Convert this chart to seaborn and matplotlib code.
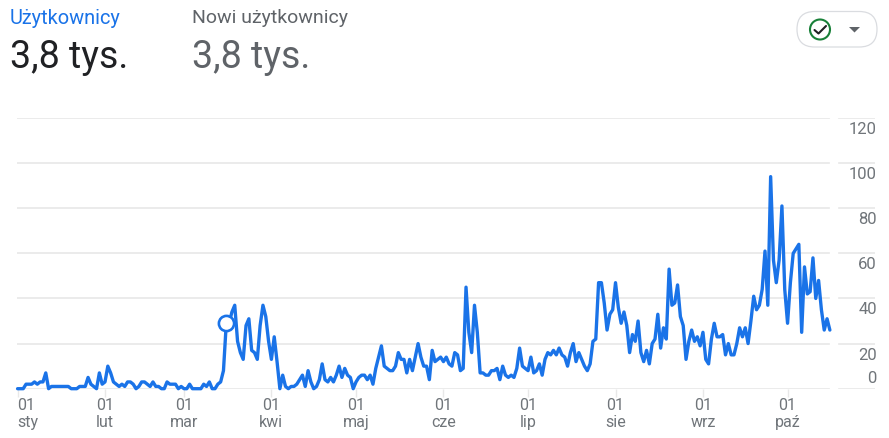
import seaborn as sns
import pandas as pd
import matplotlib.pyplot as plt
from matplotlib.patches import FancyBboxPatch, Circle, Polygon

# daily users, from 1 Jan
users_jan = [0, 0, 0, 2, 2, 2, 3, 2, 3, 3, 7, 0, 1, 1, 1, 1, 1, 1, 1, 0, 0, 0, 1, 1, 1, 5, 2, 1, 0, 7, 2]
users_feb = [3, 10, 7, 3, 2, 1, 2, 1, 3, 3, 2, 0, 1, 3, 3, 2, 1, 3, 1, 1, 0, 0, 3, 2, 2, 2, 0, 1]
users_mar = [0, 0, 2, 0, 0, 0, 0, 2, 1, 3, 0, 0, 2, 3, 8, 29, 29, 34, 37, 21, 16, 13, 28, 31, 17, 16, 13, 28, 37, 32, 21]
users_apr = [13, 23, 12, 0, 6, 1, 0, 1, 1, 2, 4, 6, 1, 8, 3, 0, 1, 4, 11, 4, 3, 5, 3, 6, 10, 5, 9, 6, 5, 0]
users_may = [3, 5, 6, 6, 4, 6, 2, 9, 14, 19, 10, 9, 8, 8, 10, 16, 13, 13, 7, 13, 8, 14, 20, 14, 10, 10, 4, 17, 12, 13, 14]
users_jun = [12, 14, 11, 10, 16, 15, 8, 9, 45, 25, 16, 37, 25, 7, 7, 6, 6, 8, 8, 9, 4, 10, 6, 5, 6, 5, 9, 18, 10, 9]
users_jul = [8, 14, 7, 8, 11, 6, 13, 16, 15, 17, 15, 18, 15, 14, 10, 16, 20, 12, 16, 13, 10, 8, 11, 21, 22, 47, 47, 38, 26, 33, 35]
users_aug = [47, 36, 29, 34, 28, 16, 24, 21, 30, 16, 12, 17, 11, 20, 22, 33, 18, 27, 22, 53, 37, 38, 46, 32, 28, 13, 21, 26, 21, 23, 19]
users_sep = [25, 13, 11, 22, 29, 23, 23, 24, 15, 20, 15, 15, 20, 27, 23, 27, 20, 30, 41, 35, 37, 44, 61, 37, 94, 57, 47, 57, 81, 44]
users_oct = [29, 47, 60, 62, 64, 25, 54, 42, 43, 58, 40, 48, 35, 26, 31, 26]

month_starts = ['2023-01-01', '2023-02-01', '2023-03-01', '2023-04-01', '2023-05-01',
                '2023-06-01', '2023-07-01', '2023-08-01', '2023-09-01', '2023-10-01']
month_labels = ['sty', 'lut', 'mar', 'kwi', 'maj', 'cze', 'lip', 'sie', 'wrz', 'paź']
y_ticks = [0, 20, 40, 60, 80, 100, 120]
marker_day = '2023-03-16'
marker_value = 29

W, H = 889, 438
GRID = '#e8e8e8'
BLUE = '#1a73e8'
GREY = '#70757a'


def day(offset):
    return pd.Timestamp('2023-01-01') + pd.Timedelta(days=offset)


users = users_jan + users_feb + users_mar + users_apr + users_may + users_jun + users_jul + users_aug + users_sep + users_oct
data = pd.DataFrame({'date': pd.date_range('2023-01-01', periods=len(users)), 'users': users})

sns.set_theme(style='white')
plt.rcParams['font.family'] = ['Roboto', 'DejaVu Sans']

fig = plt.figure(figsize=(W / 100, H / 100), dpi=100)
ax = fig.add_axes([17 / W, 1 - 388.7 / H, (875 - 17) / W, (388.7 - 118) / H])

sns.lineplot(data=data, x='date', y='users', color=BLUE, linewidth=2.4, ax=ax,
             clip_on=False, zorder=4)
sns.scatterplot(x=[pd.Timestamp(marker_day)], y=[marker_value], s=120, color='white',
                edgecolor=BLUE, linewidth=1.9, ax=ax, zorder=5)

ax.set_xlim(day(-0.2), day(304))
ax.set_ylim(0, 120)
ax.set_xlabel('')
ax.set_ylabel('')
ax.grid(axis='y', color=GRID, linewidth=1.2)
ax.set_axisbelow(True)
ax.axvspan(day(288.2), day(290.4), color='white', zorder=2)
sns.despine(ax=ax, left=True, right=True, top=True, bottom=True)

ax.set_xticks([pd.Timestamp(d) for d in month_starts])
ax.set_xticklabels(['01\n' + m for m in month_labels], fontsize=11.5, color=GREY, linespacing=1.12)
ax.get_xticklabels()[0].set_ha('left')
ax.tick_params(axis='x', length=5.5, width=1, color=GRID, pad=1.5, bottom=True)

# the value labels sit under their gridlines, only 0 sits above its line
ax.set_yticks(y_ticks)
ax.set_yticklabels([])
ax.tick_params(axis='y', length=0)
for v in y_ticks:
    ax.annotate(str(v), xy=(1, v), xycoords=ax.get_yaxis_transform(),
                xytext=(1.4, 7.5 if v == 0 else -8.3), textcoords='offset points',
                ha='right', va='center', fontsize=12, color=GREY)

# header and the status pill, placed in pixels
top = fig.add_axes([0, 0, 1, 1], zorder=10)
top.set_xlim(0, W)
top.set_ylim(H, 0)
top.axis('off')
top.patch.set_alpha(0)

top.text(10, 18, 'Użytkownicy', fontsize=14.4, color=BLUE, va='center')
top.text(192, 18, 'Nowi użytkownicy', fontsize=14, color='#5f6368', va='center')
top.text(10, 58, '3,8 tys.', fontsize=27, color='#202124', va='center')
top.text(192, 58, '3,8 tys.', fontsize=27, color='#5f6368', va='center')

top.add_patch(FancyBboxPatch((797, 11.5), 80, 35.5, boxstyle='round,pad=0,rounding_size=17.7',
                             fc='white', ec='#dadce0', lw=0.9))
top.add_patch(Circle((820, 29.5), 10, fc='white', ec='#188038', lw=1.5))
top.plot([814.5, 818.5, 826], [30, 33.5, 26], color='#202124', lw=1.5, solid_capstyle='round')
top.add_patch(Polygon([[849, 27], [860, 27], [854.5, 32.5]], fc='#5f6368', ec='none'))

plt.savefig('out.png', dpi=100)
